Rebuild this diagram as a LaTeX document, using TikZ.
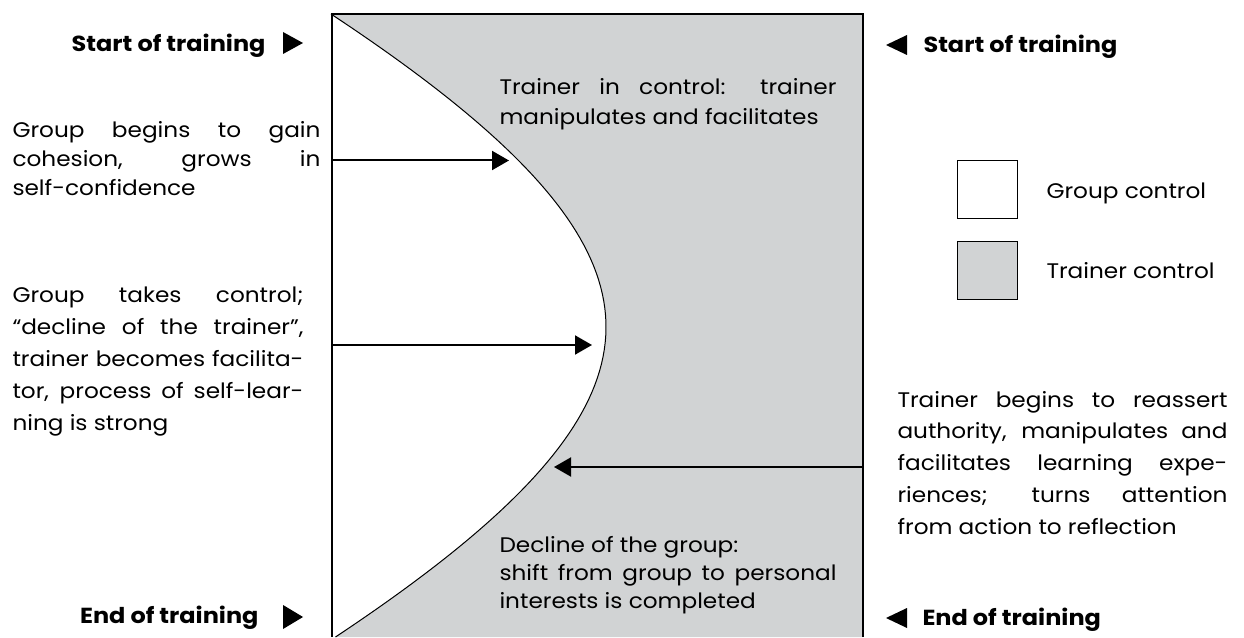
\documentclass[tikz,border=0pt]{standalone}
\usepackage{fontspec}
\setmainfont{Poppins}[FakeStretch=1.1]
\usetikzlibrary{positioning}
\usetikzlibrary{arrows.meta}
\definecolor{ctrl-gray}{HTML}{D1D3D4}
\newlength{\basisb}
\setlength{\basisb}{0.2cm}

\begin{document}
\begin{tikzpicture}[line width=0.1\basisb,
	stage text/.style={anchor=base west, inner sep=0, align=justify},
	phase label/.style={inner sep=0, font=\bfseries\fontsize{12.4}{14}\selectfont},
	legend box/.style={draw, line width=0.1\basisb, minimum width=6\basisb, minimum height=5.8\basisb},
	stage arrow/.style={-{Triangle[length=0.34cm, width=0.38cm]}, line width=0.2\basisb}]
	\useasboundingbox (0,0) rectangle (124.4\basisb,63.7\basisb);

	% trainer control area, right of the curve
	\fill[ctrl-gray] (33.2\basisb,62.3\basisb) -- (86.3\basisb,62.3\basisb) -- (86.3\basisb,0\basisb)
		-- plot[domain=0:62.3, samples=90, variable=\t] ({(131.7-10*sqrt(50.5521+4.764*((31-\t)/10)^2))*\basisb}, {\t*\basisb}) -- cycle;
	\draw[line width=0.1\basisb] plot[domain=0:62.3, samples=90, variable=\t] ({(131.7-10*sqrt(50.5521+4.764*((31-\t)/10)^2))*\basisb}, {\t*\basisb});
	\draw[line width=0.2\basisb] (33.2\basisb,0\basisb) -- (33.2\basisb,62.3\basisb) -- (86.3\basisb,62.3\basisb) -- (86.3\basisb,0\basisb);

	% start and end markers
	\draw (26.6\basisb,58.55\basisb) node[phase label, anchor=base east] (StartLeft) {Start of training};
	\draw (25.9\basisb,1.35\basisb) node[phase label, anchor=base east] (EndLeft) {End of training};
	\draw (92.3\basisb,58.45\basisb) node[phase label, anchor=base west] (StartRight) {Start of training};
	\draw (92.2\basisb,1.15\basisb) node[phase label, anchor=base west] (EndRight) {End of training};
	\fill (28.3\basisb,60.5\basisb) -- (30.3\basisb,59.4\basisb) -- (28.3\basisb,58.3\basisb) -- cycle;
	\fill (28.3\basisb,3.2\basisb) -- (30.3\basisb,2.0\basisb) -- (28.3\basisb,0.8\basisb) -- cycle;
	\fill (90.7\basisb,60.2\basisb) -- (88.6\basisb,59.2\basisb) -- (90.7\basisb,58.2\basisb) -- cycle;
	\fill (90.7\basisb,2.9\basisb) -- (88.6\basisb,1.9\basisb) -- (90.7\basisb,0.9\basisb) -- cycle;

	% stage descriptions
	\draw (1.2\basisb,49.9\basisb) 
		node[stage text, text width=30.8\basisb, font=\fontsize{12}{16.4}\selectfont] 
			(GroupCohesion) {Group begins to gain\linebreak cohesion, grows in\linebreak self-confidence};
	\draw (1.2\basisb,33.4\basisb) 
		node[stage text, text width=29.1\basisb, font=\fontsize{12}{18.2}\selectfont] 
			(GroupControl) {Group takes control;\linebreak “decline of the trainer”,\linebreak trainer becomes facilita-\linebreak tor, process of self-lear-\linebreak ning is strong};
	\draw (89.7\basisb,23.0\basisb) 
		node[stage text, text width=33.0\basisb, font=\fontsize{12}{18.2}\selectfont] 
			(TrainerReassert) {Trainer begins to reassert\linebreak authority, manipulates and\linebreak facilitates learning expe-\linebreak riences; turns attention\linebreak from action to reflection};
	\draw (49.9\basisb,54.2\basisb) 
		node[stage text, text width=33.7\basisb, font=\fontsize{12}{16.8}\selectfont] 
			(TrainerControl) {Trainer in control: trainer\linebreak manipulates and facilitates};
	\draw (49.9\basisb,8.5\basisb) 
		node[stage text, text width=33.7\basisb, font=\fontsize{12}{16.0}\selectfont] 
			(GroupDecline) {Decline of the group:\\ shift from group to personal\linebreak interests is completed};

	% legend
	\draw (98.7\basisb,44.7\basisb) node[legend box, fill=white] (LegendGroup) {};
	\draw (98.7\basisb,36.6\basisb) node[legend box, fill=ctrl-gray] (LegendTrainer) {};
	\draw (104.6\basisb,43.8\basisb) node[anchor=base west, inner sep=0, font=\fontsize{12}{14}\selectfont] (LegendGroupText) {Group control};
	\draw (104.6\basisb,35.8\basisb) node[anchor=base west, inner sep=0, font=\fontsize{12}{14}\selectfont] (LegendTrainerText) {Trainer control};

	% arrows into the curve
	\coordinate (GainFrom) at (33.2\basisb,47.65\basisb);
	\coordinate (GainTo) at (50.9\basisb,47.65\basisb);
	\coordinate (ControlFrom) at (33.2\basisb,29.2\basisb);
	\coordinate (ControlTo) at (59.2\basisb,29.2\basisb);
	\coordinate (ReassertFrom) at (86.3\basisb,17.0\basisb);
	\coordinate (ReassertTo) at (55.4\basisb,17.0\basisb);
	\draw[stage arrow] (GainFrom) -- (GainTo);
	\draw[stage arrow] (ControlFrom) -- (ControlTo);
	\draw[stage arrow] (ReassertFrom) -- (ReassertTo);
\end{tikzpicture}
\end{document}
